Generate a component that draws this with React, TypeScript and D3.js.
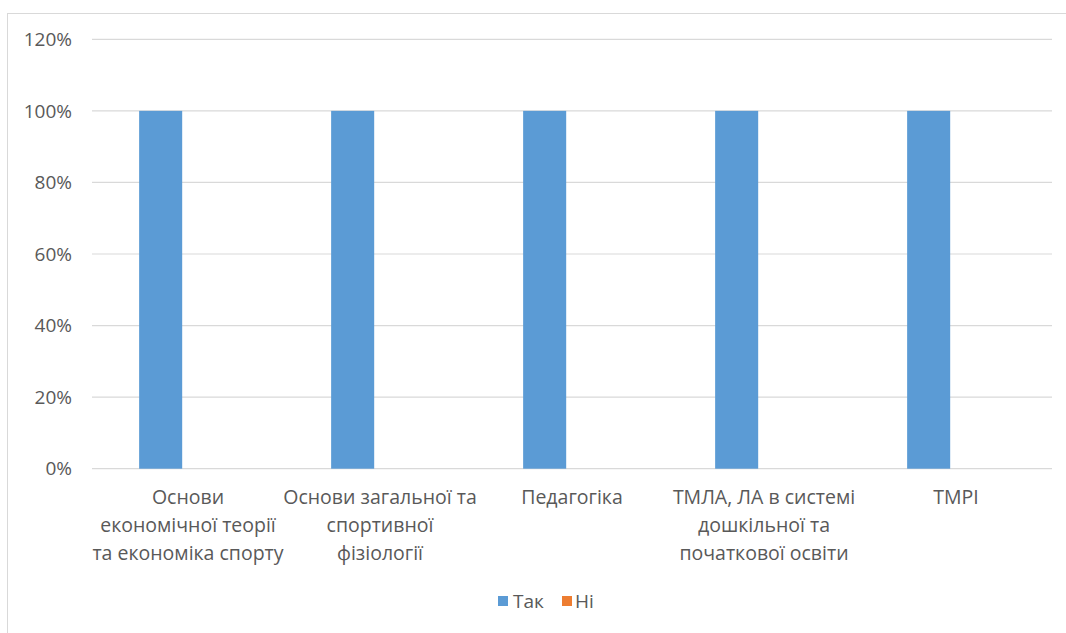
import React from "react";
import * as d3 from "d3";

const categories: string[][] = [
  ["Основи", "економічної теорії", "та економіка спорту"],
  ["Основи загальної та", "спортивної", "фізіології"],
  ["Педагогіка"],
  ["ТМЛА, ЛА в системі", "дошкільної та", "початкової освіти"],
  ["ТМРІ"],
];
const seriesNames = ["Так", "Ні"];
const takValues = [1, 1, 1, 1, 1];
const niValues = [0, 0, 0, 0, 0];
const yTicks = [0, 0.2, 0.4, 0.6, 0.8, 1.0, 1.2];
const colors = ["#5B9BD5", "#ED7D31"];

const W = 1066;
const H = 633;
const FONT = "'Open Sans', 'Noto Sans', sans-serif";
const TXT = "#595959";

export default function App() {
  const left = 92, right = 1052, top = 39.3, bottom = 468.7;
  const x0 = d3.scaleBand<number>().domain(d3.range(categories.length)).range([left, right]);
  const x1 = d3
    .scaleBand<number>()
    .domain([0, 1])
    .range([0, x0.bandwidth()])
    .paddingInner(0.2126)
    .paddingOuter(0.862);
  const y = d3.scaleLinear().domain([0, 1.2]).range([bottom, top]);
  const fmt = d3.format(".0%");
  const series = [takValues, niValues];

  const legendX = [498, 562];
  const legendTextX = [513, 575];

  return (
    <svg width={W} height={H} style={{ position: "absolute", left: 0, top: 0, background: "#fff" }}>
      <rect x={7.5} y={13.5} width={W + 10} height={H + 10} fill="#fff" stroke="#D9D9D9" strokeWidth={1} />
      {yTicks.map((t) => (
        <g key={t}>
          <line x1={left} x2={right} y1={y(t)} y2={y(t)} stroke="#D9D9D9" strokeWidth={1.2} />
          <text x={72} y={y(t)} dy="0.35em" textAnchor="end" fontFamily={FONT} fontSize={19} fill={TXT}>
            {fmt(t)}
          </text>
        </g>
      ))}
      {series.map((vals, si) =>
        vals.map((v, ci) => (
          <rect
            key={`${si}-${ci}`}
            x={(x0(ci) as number) + (x1(si) as number)}
            y={y(v)}
            width={x1.bandwidth()}
            height={bottom - y(v)}
            fill={colors[si]}
          />
        ))
      )}
      {categories.map((lines, ci) => (
        <text
          key={ci}
          x={(x0(ci) as number) + x0.bandwidth() / 2}
          y={497}
          textAnchor="middle"
          fontFamily={FONT}
          fontSize={19.5}
          fill={TXT}
        >
          {lines.map((l, li) => (
            <tspan key={li} x={(x0(ci) as number) + x0.bandwidth() / 2} y={497 + li * 28} dy="0.35em">
              {l}
            </tspan>
          ))}
        </text>
      ))}
      {seriesNames.map((name, i) => (
        <g key={name}>
          <rect x={legendX[i]} y={596} width={10} height={10} fill={colors[i]} />
          <text x={legendTextX[i]} y={601} dy="0.35em" fontFamily={FONT} fontSize={19} fill={TXT}>
            {name}
          </text>
        </g>
      ))}
    </svg>
  );
}
